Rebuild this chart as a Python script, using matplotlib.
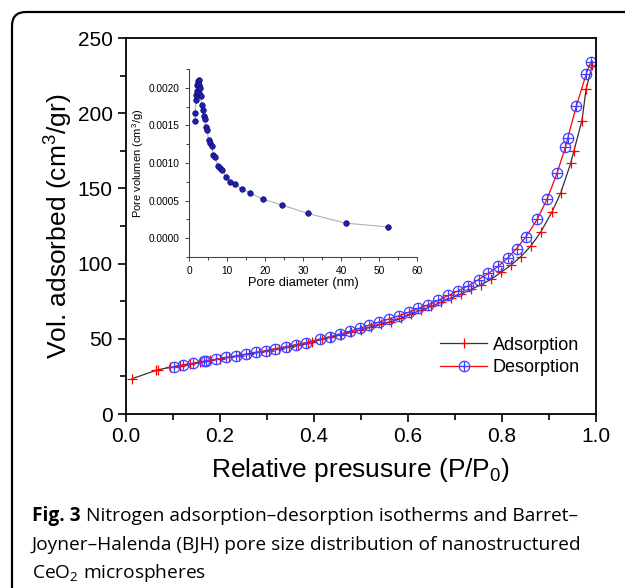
import numpy as np
import matplotlib.pyplot as plt
from matplotlib.patches import FancyBboxPatch
from matplotlib.transforms import IdentityTransform
from matplotlib.ticker import MultipleLocator

plt.rcParams['font.family'] = ['Liberation Sans', 'DejaVu Sans']
plt.rcParams['mathtext.fontset'] = 'custom'
plt.rcParams['mathtext.rm'] = 'Liberation Sans'
plt.rcParams['mathtext.sf'] = 'Open Sans'

# adsorption branch (P/P0, cm3/g)
ads_x = [0.013, 0.064, 0.069, 0.094, 0.115, 0.136, 0.157, 0.178, 0.199, 0.220,
         0.241, 0.262, 0.283, 0.304, 0.325, 0.346, 0.367, 0.388, 0.395, 0.416,
         0.437, 0.458, 0.479, 0.500, 0.521, 0.542, 0.564, 0.585, 0.606, 0.628,
         0.649, 0.670, 0.691, 0.713, 0.734, 0.755, 0.777, 0.798, 0.819, 0.840,
         0.861, 0.882, 0.906, 0.925, 0.946, 0.953, 0.970, 0.979, 0.992]
ads_y = [23.5, 29.0, 29.5, 31.0, 32.2, 33.3, 34.5, 35.6, 36.7, 37.8,
         38.8, 39.9, 41.0, 42.1, 43.2, 44.4, 45.6, 46.9, 47.6, 49.6,
         51.1, 52.7, 54.3, 56.0, 57.8, 59.6, 61.5, 63.6, 66.4, 69.0,
         71.5, 74.2, 77.0, 79.8, 82.8, 85.9, 89.6, 94.2, 99.0, 104.6,
         111.6, 120.7, 134.2, 147.0, 166.6, 175.0, 195.0, 216.0, 232.0]

# desorption branch
des_x = [0.102, 0.122, 0.143, 0.166, 0.170, 0.191, 0.213, 0.234, 0.255, 0.276,
         0.297, 0.318, 0.340, 0.361, 0.382, 0.413, 0.434, 0.455, 0.476, 0.497,
         0.518, 0.539, 0.560, 0.581, 0.602, 0.622, 0.643, 0.664, 0.686, 0.707,
         0.728, 0.750, 0.771, 0.792, 0.813, 0.831, 0.851, 0.875, 0.896, 0.917,
         0.935, 0.940, 0.958, 0.979, 0.989]
des_y = [31.5, 32.7, 33.8, 35.0, 35.3, 36.4, 37.6, 38.6, 39.8, 41.0,
         42.2, 43.5, 44.8, 46.1, 47.4, 49.8, 51.4, 53.2, 55.0, 57.0,
         59.1, 61.1, 63.2, 65.4, 67.7, 70.2, 72.6, 75.6, 78.8, 82.0,
         85.2, 89.4, 93.5, 98.2, 104.0, 110.0, 117.8, 129.5, 143.0, 160.0,
         177.6, 183.5, 204.5, 226.0, 234.0]

# BJH pore size distribution (nm, cm3/g)
pore_d = [1.58, 1.67, 1.75, 1.93, 2.0, 2.2, 2.37, 2.5, 2.6, 2.7, 2.9, 3.1,
          3.3, 3.6, 3.9, 4.1, 4.4, 4.7, 5.2, 5.5, 6.0, 6.4, 6.9, 7.5, 8.2,
          8.8, 9.7, 10.8, 12.1, 13.9, 16.1, 19.4, 24.6, 31.2, 41.2, 52.3]
pore_v = [0.00156, 0.00167, 0.00184, 0.00191, 0.00196, 0.00204, 0.00209,
          0.00211, 0.00193, 0.00204, 0.00200, 0.00189, 0.00177, 0.00171,
          0.00163, 0.00158, 0.00148, 0.00144, 0.00130, 0.00126, 0.00122,
          0.00110, 0.00108, 0.00096, 0.00093, 0.00091, 0.00081, 0.00075,
          0.00072, 0.00065, 0.00060, 0.00052, 0.00044, 0.00033, 0.00020,
          0.00015]

fig = plt.figure(figsize=(6.25, 5.88), dpi=100)

# rounded frame around the figure panel
frame = FancyBboxPatch((12, -30), 700, 30 + 576, boxstyle='round,pad=0,rounding_size=14',
                       transform=IdentityTransform(), fill=False, lw=1.6,
                       edgecolor='black', clip_on=False)
fig.patches.append(frame)

ax = fig.add_axes([126 / 625, 174 / 588, 470 / 625, 376 / 588])
l_ads, = ax.plot(ads_x, ads_y, color='#333333', lw=0.9, marker='+', ms=7,
                 mec='red', mew=0.9, label='Adsorption')
l_des, = ax.plot(des_x, des_y, color='red', lw=0.9, marker='o', ms=7.5,
                 mfc='none', mec='#4040ff', mew=0.9)
l_des2, = ax.plot(des_x, des_y, ls='none', marker='+', ms=7.5, mec='#4040ff', mew=0.9)

ax.set_xlim(0, 1.0)
ax.set_ylim(0, 250)
ax.xaxis.set_major_locator(MultipleLocator(0.2))
ax.xaxis.set_minor_locator(MultipleLocator(0.1))
ax.yaxis.set_major_locator(MultipleLocator(50))
ax.yaxis.set_minor_locator(MultipleLocator(25))
ax.xaxis.set_major_formatter(plt.FormatStrFormatter('%.1f'))
ax.tick_params(which='both', direction='out', top=False, right=False, width=1.2)
ax.tick_params(which='major', length=6, labelsize=15)
ax.tick_params(which='minor', length=4)
for s in ax.spines.values():
    s.set_linewidth(1.3)
ax.set_xlabel('Relative presusure (P/P$_0$)', fontsize=19, labelpad=7)
ax.set_ylabel('Vol. adsorbed (cm$^3$/gr)', fontsize=19, labelpad=3)

ax.legend([l_ads, (l_des, l_des2)], ['Adsorption', 'Desorption'], frameon=False,
          fontsize=13, loc='lower right', bbox_to_anchor=(1.0, 0.058),
          handlelength=2.6, handletextpad=0.3, labelspacing=0.3)

# inset: BJH distribution
ins = fig.add_axes([189 / 625, 331 / 588, 228 / 625, 188 / 588])
ins.plot(pore_d, pore_v, color='#b0b0b0', lw=0.8, marker='o', ms=4,
         mfc='#1f1fb0', mec='#0a0a70', mew=0.5)
ins.set_xlim(0, 60)
ins.set_ylim(-0.00025, 0.00225)
ins.xaxis.set_major_locator(MultipleLocator(10))
ins.xaxis.set_minor_locator(MultipleLocator(5))
ins.yaxis.set_major_locator(MultipleLocator(0.0005))
ins.yaxis.set_minor_locator(MultipleLocator(0.00025))
ins.yaxis.set_major_formatter(plt.FormatStrFormatter('%.4f'))
ins.spines['top'].set_visible(False)
ins.spines['right'].set_visible(False)
for s in ['left', 'bottom']:
    ins.spines[s].set_linewidth(0.8)
    ins.spines[s].set_color('#444444')
ins.patch.set_alpha(0)
ins.tick_params(which='both', direction='out', width=0.7, colors='#444444',
                labelcolor='black', labelsize=7.3)
ins.tick_params(which='major', length=3)
ins.tick_params(which='minor', length=2)
ins.set_xlabel('Pore diameter (nm)', fontsize=9.3, labelpad=1)
ins.set_ylabel('Pore volumen (cm$^3$/g)', fontsize=8, labelpad=2)

# caption
cap_font = 'Open Sans'
cap_size = 13.8
r = fig.canvas.get_renderer()
t0 = fig.text(32 / 625, 1 - 516 / 588, 'Fig. 3', fontsize=cap_size, fontweight='bold',
              family=cap_font, va='center')
bb = t0.get_window_extent(renderer=r)
fig.text((bb.x1 + 5) / 625, 1 - 516 / 588,
         'Nitrogen adsorption\u2013desorption isotherms and Barret\u2013',
         fontsize=cap_size, family=cap_font, va='center')
fig.text(32 / 625, 1 - 545 / 588,
         'Joyner\u2013Halenda (BJH) pore size distribution of nanostructured',
         fontsize=cap_size, family=cap_font, va='center')
fig.text(32 / 625, 1 - 573 / 588, 'CeO$_\\mathsf{2}$ microspheres',
         fontsize=cap_size, family=cap_font, va='center')

fig.savefig('out.png', dpi=100)
